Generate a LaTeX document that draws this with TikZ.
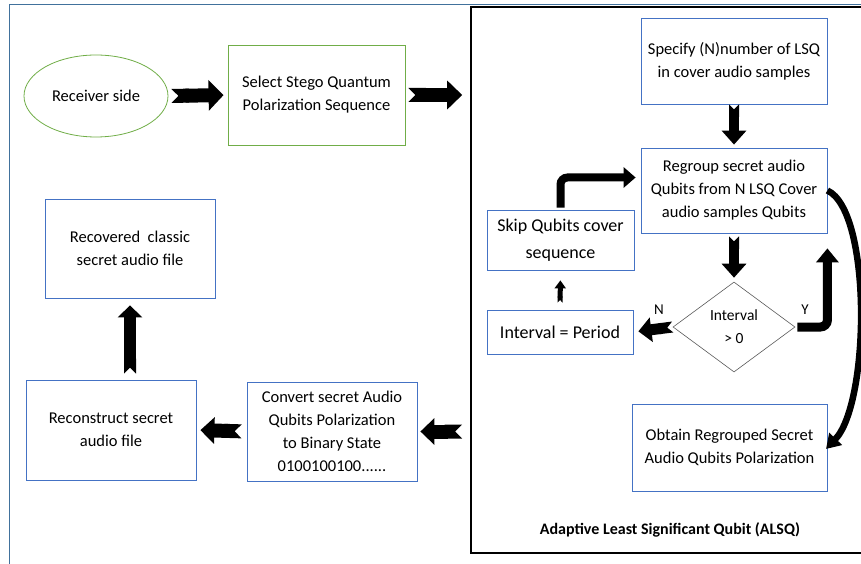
\documentclass[tikz,border=0pt]{standalone}
\usepackage{fontspec}
\setmainfont{Carlito}
\usetikzlibrary{positioning}
\usetikzlibrary{shapes.geometric}
\usetikzlibrary{arrows.meta}

\definecolor{boxblue}{HTML}{4472C4}
\definecolor{boxgreen}{HTML}{70AD47}
\definecolor{frameblue}{HTML}{41719C}

\tikzset{
  stepbox/.style={draw=boxblue, line width=0.8pt, align=center, inner sep=2pt,
    font=\fontsize{16.5}{23}\selectfont},
  greenbox/.style={stepbox, draw=boxgreen},
  bigbox/.style={stepbox, font=\fontsize{18}{27}\selectfont},
  fatarrow/.style n args={3}{line width=#1,
    arrows={Triangle Cap[reversed]-Triangle[length=#3, width=#2]}},
  roundarrow/.style n args={3}{line width=#1, rounded corners=7pt,
    arrows={-Triangle[length=#3, width=#2]}},
}

\begin{document}
\begin{tikzpicture}[x=1pt, y=1pt]
	\useasboundingbox (0,0) rectangle (861,563);

	% outer frame and ALSQ frame
	\draw[frameblue, line width=0.9pt] (9,-20) rectangle (900,559);
	\node[draw, line width=1.6pt, minimum width=399pt, minimum height=546pt, inner sep=0pt] (alsq) at (670.5,283) {};
	\node[font=\bfseries\fontsize{16}{18}\selectfont] (alsqlabel) at (670,33) {Adaptive Least Significant Qubit (ALSQ)};

	% receiver part
	\node[greenbox, ellipse, minimum width=144pt, minimum height=82pt] (recv) at (96,467) {Receiver side};
	\node[greenbox, minimum width=177pt, minimum height=100pt] (stego) at (316.5,468) {Select Stego Quantum\\Polarization Sequence};

	% inside ALSQ
	\node[stepbox, minimum width=186pt, minimum height=86pt] (spec) at (734,502) {Specify (N)number of LSQ\\in cover audio samples};
	\node[stepbox, minimum width=186pt, minimum height=85pt] (regroup) at (734,372.5) {Regroup secret audio\\Qubits from N LSQ Cover\\audio samples Qubits};
	\node[bigbox, minimum width=147pt, minimum height=60pt] (skip) at (560.5,323) {Skip Qubits cover\\sequence};
	\node[bigbox, minimum width=146pt, minimum height=44pt] (period) at (560,231) {Interval = Period};
	\node[diamond, draw=gray!70!black, line width=0.6pt, align=center, inner sep=0pt, aspect=1.35,
	      minimum width=122pt, minimum height=90pt, font=\fontsize{15.5}{23}\selectfont] (cond) at (734,236) {Interval\\> 0};
	\node[stepbox, minimum width=195pt, minimum height=87pt] (obtain) at (729.5,115.5) {Obtain Regrouped Secret\\Audio Qubits Polarization};

	% recovery part
	\node[stepbox, minimum width=170pt, minimum height=99pt] (convert) at (332,131.5) {Convert secret Audio\\Qubits Polarization\\to Binary State\\0100100100......};
	\node[stepbox, minimum width=170pt, minimum height=100pt] (recon) at (111,133) {Reconstruct secret\\audio file};
	\node[stepbox, minimum width=170pt, minimum height=99pt] (recov) at (130,314.5) {Recovered\ \ classic\\secret audio file};

	% connectors
	\draw[fatarrow={14pt}{30pt}{15pt}, shorten <=3pt, shorten >=4pt] (recv.east) -- (stego.west);
	\draw[fatarrow={14pt}{28pt}{15pt}, shorten <=3pt, shorten >=8pt] (stego.east) -- (stego.east -| alsq.west);
	\draw[fatarrow={10pt}{24pt}{14pt}, shorten <=0pt, shorten >=3pt] (spec.south) -- (regroup.north);
	\draw[fatarrow={10pt}{24pt}{14pt}, shorten <=3pt, shorten >=4pt] (regroup.south) -- (cond.north);
	\draw[fatarrow={11pt}{24pt}{13pt}, shorten <=0pt, shorten >=5pt] (cond.west) -- (period.east);
	\draw[fatarrow={5pt}{11pt}{8pt}, shorten <=7pt, shorten >=10pt] (period.north) -- (skip.south);
	\draw[roundarrow={8pt}{20pt}{12pt}, shorten <=2pt, shorten >=5pt] (skip.north) |- ([yshift=13pt]regroup.west);
	\draw[roundarrow={9pt}{22pt}{14pt}, shorten <=2pt, shorten >=15pt] (cond.east) -| (regroup.south east);
	\draw[line width=6.5pt, arrows={-Triangle[length=14pt, width=17pt]}, shorten >=-2pt]
	      (regroup.east) .. controls (872,352) and (870,160) .. (obtain.east);
	\draw[fatarrow={14pt}{26pt}{14pt}, shorten <=8pt, shorten >=3pt] (convert.east -| alsq.west) -- (convert.east);
	\draw[fatarrow={14pt}{26pt}{14pt}, shorten <=5pt, shorten >=4pt] (convert.west) -- (recon.east);
	\draw[fatarrow={12pt}{24pt}{12pt}, shorten <=6pt, shorten >=7pt] (recov.south |- recon.north) -- (recov.south);

	% branch labels
	\node[font=\fontsize{15}{16}\selectfont] (nlabel) at (659,253) {N};
	\node[font=\fontsize{15}{16}\selectfont] (ylabel) at (805,253) {Y};
\end{tikzpicture}
\end{document}
